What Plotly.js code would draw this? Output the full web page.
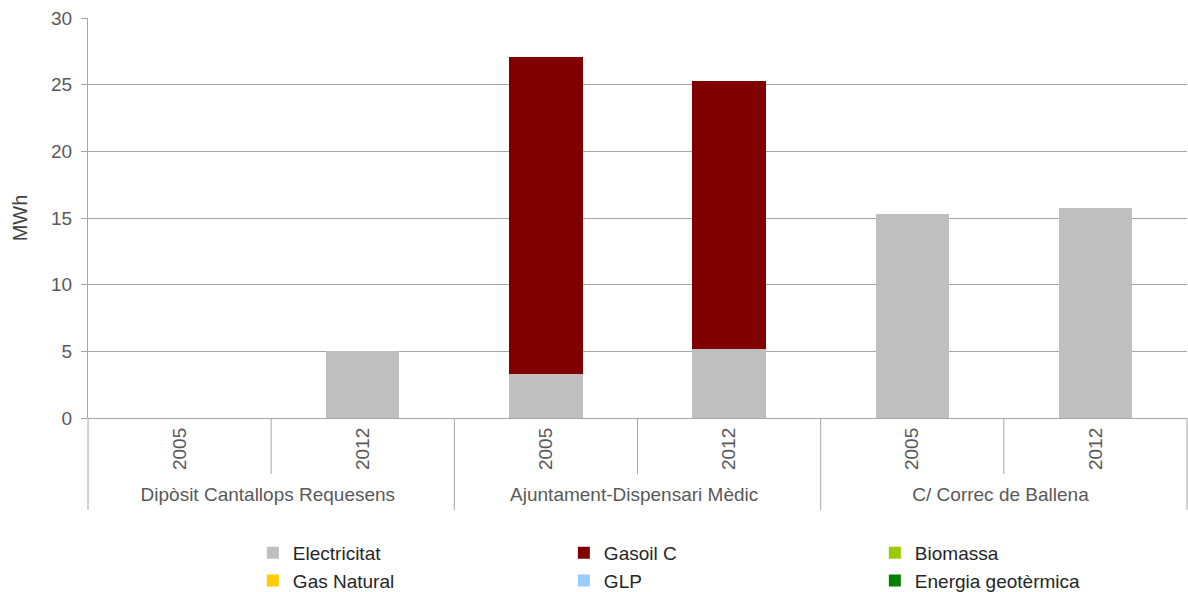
<!DOCTYPE html>
<html>
<head>
<meta charset="utf-8">
<script src="https://cdn.plot.ly/plotly-3.0.1.min.js"></script>
<style>html,body{margin:0;padding:0;background:#fff;}#chart{width:1188px;height:592px;}</style>
</head>
<body>
<div id="chart"></div>
<script>
// Data
const groups = ['Dipòsit Cantallops Requesens','Dipòsit Cantallops Requesens','Ajuntament-Dispensari Mèdic','Ajuntament-Dispensari Mèdic','C/ Correc de Ballena','C/ Correc de Ballena'];
const years = ['2005','2012','2005','2012','2005','2012'];
const electricitat = [0, 5.0, 3.3, 5.2, 15.3, 15.75];
const gasoilC = [0, 0, 23.75, 20.05, 0, 0];
const biomassa = [0, 0, 0, 0, 0, 0];
const gasNatural = [0, 0, 0, 0, 0, 0];
const glp = [0, 0, 0, 0, 0, 0];
const geotermica = [0, 0, 0, 0, 0, 0];
const yTicks = [0, 5, 10, 15, 20, 25, 30];

const series = [
  {name: 'Electricitat', y: electricitat, color: '#bfbfbf'},
  {name: 'Gasoil C', y: gasoilC, color: '#800000'},
  {name: 'Biomassa', y: biomassa, color: '#99cc00'},
  {name: 'Gas Natural', y: gasNatural, color: '#ffcc00'},
  {name: 'GLP', y: glp, color: '#99ccff'},
  {name: 'Energia geotèrmica', y: geotermica, color: '#008000'}
];

const traces = series.map(s => ({
  type: 'bar',
  name: s.name,
  x: [groups, years],
  y: s.y,
  marker: {color: s.color, line: {width: 0}},
  hoverinfo: 'x+y+name'
}));

const gray = '#a6a6a6';
const shapes = [];
// group dividers (full height) and year dividers (shorter)
for (let k = 0; k <= 6; k++) {
  const isGroup = (k % 2 === 0);
  shapes.push({
    type: 'line', xref: 'paper', yref: 'paper',
    x0: k / 6, x1: k / 6, y0: 0, y1: isGroup ? -0.23 : -0.14,
    line: {color: gray, width: 1}
  });
}

const layout = {
  width: 1188, height: 592,
  margin: {l: 88, r: 1, t: 18, b: 174},
  paper_bgcolor: '#ffffff', plot_bgcolor: '#ffffff',
  barmode: 'stack',
  bargap: 0.6,
  font: {family: 'Liberation Sans, Arial, sans-serif', size: 19, color: '#595959'},
  showlegend: true,
  legend: {
    orientation: 'h', x: 0.15, xanchor: 'left',
    yref: 'container', y: 0.098, yanchor: 'top',
    entrywidth: 266, entrywidthmode: 'pixels',
    font: {size: 19, color: '#262626'},
    traceorder: 'normal', itemclick: false
  },
  xaxis: {
    type: 'multicategory',
    showdividers: false,
    tickangle: -90,
    showline: false,
    showgrid: false,
    ticks: '',
    ticklabelstandoff: 5,
    tickfont: {size: 19, color: '#595959'},
    automargin: false
  },
  yaxis: {
    range: [0, 30],
    tickvals: yTicks,
    ticktext: yTicks.map(String),
    showgrid: true, gridcolor: gray, gridwidth: 1,
    showline: true, linecolor: gray, linewidth: 1,
    ticks: 'outside', ticklen: 6, tickcolor: gray,
    ticklabelstandoff: 5,
    zeroline: true, zerolinecolor: gray, zerolinewidth: 1,
    tickfont: {size: 19, color: '#595959'},
    title: {text: 'MWh', font: {size: 20, color: '#404040'}, standoff: 18},
    automargin: false
  },
  shapes: shapes
};

Plotly.newPlot('chart', traces, layout, {displayModeBar: false, staticPlot: true});
</script>
</body>
</html>
